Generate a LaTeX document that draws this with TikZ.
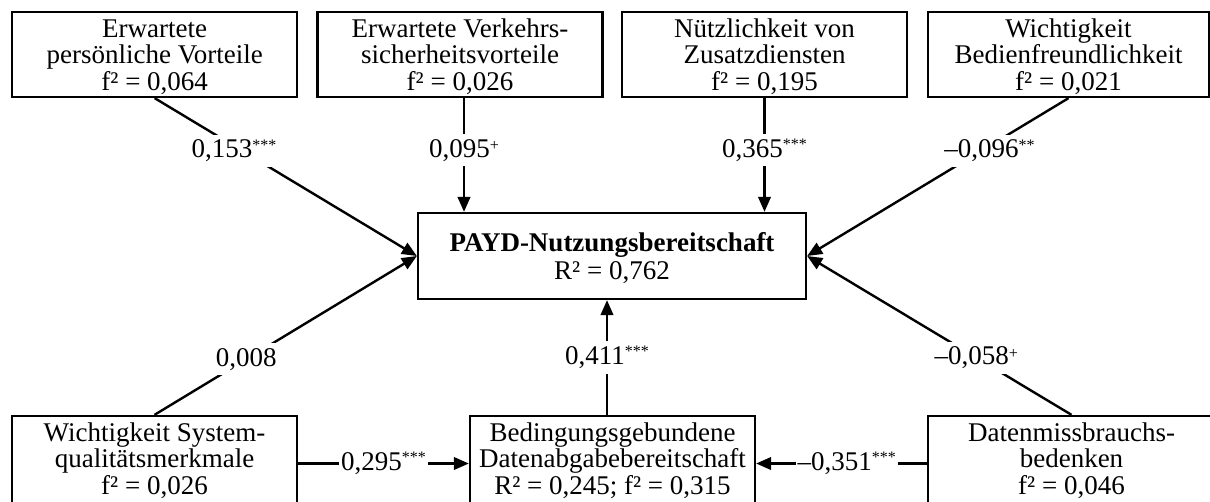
\documentclass[tikz,border=0pt]{standalone}
\usepackage{fontspec}
\setmainfont{Liberation Serif}
\usetikzlibrary{arrows.meta}
\newcommand{\fs}{\fontsize{27pt}{26.3pt}\selectfont}
\newcommand{\mlines}[1]{\begin{tabular}[t]{@{}c@{}}#1\end{tabular}}
\newcommand{\sig}[1]{\raisebox{7.5pt}{\fontsize{16pt}{16pt}\selectfont #1}}
\newcommand{\sigp}{\raisebox{6.5pt}{\fontsize{16pt}{16pt}\selectfont +}}
\begin{document}
\begin{tikzpicture}[x=1pt,y=-1pt,
  mybox/.style={draw, line width=2.3pt, minimum width=285pt, minimum height=85pt,
    inner sep=0pt, text height=25pt, text depth=60pt, font=\fs},
  lowbox/.style={mybox, minimum height=95pt, text depth=70pt},
  arr/.style={line width=2.4pt, -{Triangle[length=15pt,width=12.5pt]}},
  elab/.style={fill=white, inner xsep=2pt, inner ysep=5pt, font=\fs}]
\useasboundingbox (0,0) rectangle (1210,501);
% top row
\node[mybox] (b1) at (154.7,54.5) {\mlines{Erwartete\\persönliche Vorteile\\f² = 0,064}};
\node[mybox] (b2) at (460,54.5) {\mlines{Erwartete Verkehrs-\\sicherheitsvorteile\\f² = 0,026}};
\node[mybox] (b3) at (764.5,54.5) {\mlines{Nützlichkeit von\\Zusatzdiensten\\f² = 0,195}};
\node[mybox, minimum width=281pt] (b4) at (1068.5,54.5) {\mlines{Wichtigkeit\\Bedienfreundlichkeit\\f² = 0,021}};
% centre
\node[mybox, minimum width=388pt, minimum height=86pt, text height=38pt, text depth=48pt] (c) at (612,256)
  {\mlines{\textbf{PAYD-Nutzungsbereitschaft}\\[1.7pt] R² = 0,762}};
% bottom row
\node[lowbox] (bl) at (154.5,463.5) {\mlines{Wichtigkeit System-\\qualitätsmerkmale\\f² = 0,026}};
\node[lowbox] (bm) at (612.5,463.5) {\mlines{Bedingungsgebundene\\Datenabgabebereitschaft\\R² = 0,245; f² = 0,315}};
\node[lowbox, minimum width=287pt] (br) at (1071.5,463.5) {\mlines{Datenmissbrauchs-\\bedenken\\f² = 0,046}};
% helper coordinates
\coordinate (b2s) at ([xshift=4pt]b2.south);
\coordinate (bmn) at ([xshift=-5.5pt]bm.north);
% connectors
\draw[arr] (b1.south) -- node[elab, pos=0.333, xshift=-8pt] (l1) {0,153\sig{***}} (c.west);
\draw[arr] (b2s) -- node[elab, pos=0.457] (l2) {0,095\sigp} (b2s |- c.north);
\draw[arr] (b3.south) -- node[elab, pos=0.457] (l3) {0,365\sig{***}} (b3.south |- c.north);
\draw[arr] (b4.south) -- node[elab, pos=0.333, xshift=8pt] (l4) {–0,096\sig{**}} (c.east);
\draw[arr] (bl.north) -- node[elab, pos=0.35] (l5) {0,008} (c.west);
\draw[arr] (bmn) -- node[elab, pos=0.5] (l6) {0,411\sig{***}} (bmn |- c.south);
\draw[arr] (br.north) -- node[elab, pos=0.36] (l7) {–0,058\sigp} (c.east);
\draw[arr] (bl.east) -- node[elab, pos=0.5] (l8) {0,295\sig{***}} (bm.west);
\draw[arr] (br.west) -- node[elab, pos=0.47] (l9) {–0,351\sig{***}} (bm.east);
\end{tikzpicture}
\end{document}
